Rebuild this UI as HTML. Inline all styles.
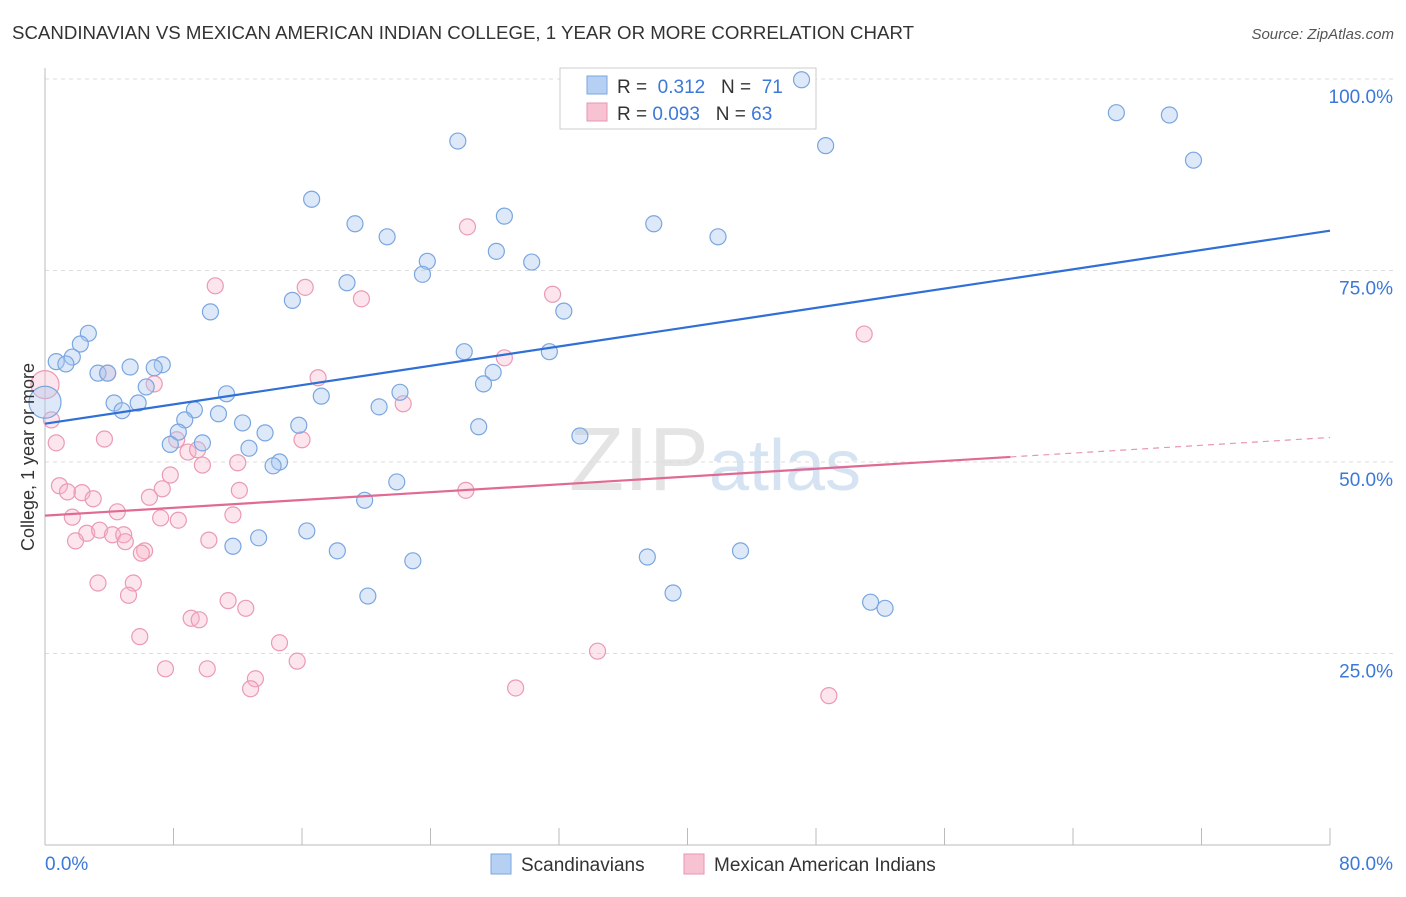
<!DOCTYPE html>
<html><head><meta charset="utf-8"><style>
body{margin:0;background:#fff;font-family:"Liberation Sans",sans-serif;}
svg text{font-family:"Liberation Sans",sans-serif;}
</style></head><body>
<svg id="chart" width="1406" height="892" xmlns="http://www.w3.org/2000/svg">
<text x="12" y="39" font-size="18" fill="#333" textLength="902" lengthAdjust="spacingAndGlyphs">SCANDINAVIAN VS MEXICAN AMERICAN INDIAN COLLEGE, 1 YEAR OR MORE CORRELATION CHART</text>
<text x="1394" y="39" font-size="15" fill="#555" text-anchor="end" font-style="italic">Source: ZipAtlas.com</text>
<text x="715" y="490" font-size="90" fill="#e4e4e4" text-anchor="middle" font-family="Liberation Serif">ZIP<tspan fill="#d5e3f3" font-family="Liberation Sans" font-size="72">atlas</tspan></text>
<g id="grid"></g>
<g id="axes"></g>
<g>
<rect x="560" y="68" width="256" height="61" fill="#fff" stroke="#ccc"/>
<rect x="587" y="76" width="20" height="18" fill="#b5d0f3" stroke="#7aa6e0"/>
<rect x="587" y="103" width="20" height="18" fill="#f7c2d2" stroke="#e896b0"/>
<text x="617" y="93" font-size="19" fill="#333">R = <tspan fill="#3b78d8">&#160;0.312</tspan>&#160;&#160;&#160;N = <tspan fill="#3b78d8">&#160;71</tspan></text>
<text x="617" y="120" font-size="19" fill="#333">R = <tspan fill="#3b78d8">0.093</tspan>&#160;&#160;&#160;N = <tspan fill="#3b78d8">63</tspan></text>
</g>
<g id="marks"></g>
<g>
<rect x="491" y="854" width="20" height="20" fill="#b5d0f3" stroke="#7aa6e0"/>
<text x="521" y="871" font-size="19" fill="#333">Scandinavians</text>
<rect x="684" y="854" width="20" height="20" fill="#f7c2d2" stroke="#e896b0"/>
<text x="714" y="871" font-size="19" fill="#333">Mexican American Indians</text>
</g>
<text transform="translate(34,457) rotate(-90)" font-size="18" fill="#333" text-anchor="middle">College, 1 year or more</text>
</svg>
<script>
const yTicks=[25,50,75,100];
const yTickLabels=["25.0%","50.0%","75.0%","100.0%"];
const blueX=[47.1,66.7,70.0,48.6,71.5,25.7,16.6,19.3,21.3,28.6,37.9,41.9,28.1,30.3,23.8,23.5,18.8,15.4,10.3,32.3,2.7,2.2,1.7,0.7,1.3,26.1,31.4,27.9,27.3,7.3,6.8,5.3,3.3,3.9,6.3,11.3,22.1,17.2,4.3,5.8,4.8,9.3,10.8,20.8,8.7,15.8,12.3,27.0,8.3,13.7,7.8,9.8,12.7,33.3,14.6,14.2,21.9,19.9,16.3,13.3,11.7,18.2,43.3,22.9,37.5,39.1,20.1,51.4,52.3,0];
const blueY=[99.9,95.6,95.3,91.3,89.4,91.9,84.3,81.1,79.4,82.1,81.1,79.4,77.5,76.1,76.2,74.5,73.4,71.1,69.6,69.7,66.8,65.4,63.7,63.1,62.8,64.4,64.4,61.7,60.2,62.7,62.3,62.4,61.6,61.6,59.8,58.9,59.1,58.6,57.7,57.7,56.7,56.8,56.3,57.2,55.5,54.8,55.1,54.6,53.9,53.8,52.3,52.5,51.8,53.4,50.0,49.5,47.4,45.0,41.0,40.1,39.0,38.4,38.4,37.1,37.6,32.9,32.5,31.7,30.9,57.8];
const pinkX=[0,0.4,0.7,26.3,10.6,16.2,19.7,31.6,51.0,3.9,6.8,28.6,17.0,22.3,3.7,8.2,8.9,9.5,9.8,12.0,7.8,7.3,12.1,26.2,0.9,1.4,2.3,3.0,6.5,4.5,1.7,7.2,8.3,11.7,2.6,3.4,4.2,4.9,5.0,1.9,6.2,6.0,10.2,3.3,5.5,5.2,11.4,12.5,9.1,9.6,5.9,14.6,15.7,7.5,10.1,13.1,12.8,29.3,34.4,48.8,16.0];
const pinkY=[60.1,55.5,52.5,80.7,73.0,72.8,71.3,71.9,66.7,61.6,60.2,63.6,61.0,57.6,53.0,52.9,51.3,51.6,49.6,49.9,48.3,46.5,46.3,46.3,46.9,46.1,46.0,45.2,45.4,43.5,42.8,42.7,42.4,43.1,40.7,41.1,40.5,40.5,39.6,39.7,38.4,38.1,39.8,34.2,34.2,32.6,31.9,30.9,29.6,29.4,27.2,26.4,24.0,23.0,23.0,21.7,20.4,20.5,25.3,19.5,52.9];
const blueTrend=[55.0,80.2];
const pinkTrend=[43.0,53.2];
const pinkSolidEnd=60.1;
const NS="http://www.w3.org/2000/svg";
const X=v=>45+v*(1285/80);
const Y=v=>845-v*7.66;
function mk(tag,attrs,parent){const e=document.createElementNS(NS,tag);for(const k in attrs)e.setAttribute(k,attrs[k]);document.getElementById(parent).appendChild(e);return e;}
yTicks.forEach((t,i)=>{
 const l=mk('line',{x1:45,x2:1393,y1:Y(t),y2:Y(t),stroke:'#ddd','stroke-dasharray':'4,4'},'grid');
 
 
 const tx=mk('text',{x:1393,y:Y(t)+24,'font-size':19,fill:'#3b78d8','text-anchor':'end'},'axes');
 tx.textContent=yTickLabels[i];
 
 
});
mk('line',{x1:45,x2:45,y1:68,y2:845,stroke:'#bbb'},'axes');
mk('line',{x1:45,x2:1330,y1:845,y2:845,stroke:'#bbb'},'axes');
for(let i=0;i<=10;i++){mk('line',{x1:X(i*8),x2:X(i*8),y1:828,y2:845,stroke:'#bbb'},'axes');}
let t0=mk('text',{x:45,y:870,'font-size':19,fill:'#3b78d8'},'axes');t0.textContent='0.0%';

let t1=mk('text',{x:1393,y:870,'font-size':19,fill:'#3b78d8','text-anchor':'end'},'axes');t1.textContent='80.0%';

pinkX.forEach((v,i)=>{
 const r=i===0?14:8;
 const c=mk('circle',{cx:X(v),cy:Y(pinkY[i]),r:r,fill:'rgba(247,180,200,0.35)',stroke:'#eb9ab4','stroke-width':1.2},'marks');
 
 
});
blueX.forEach((v,i)=>{
 const r=i===blueX.length-1?16:8;
 const c=mk('circle',{cx:X(v),cy:Y(blueY[i]),r:r,fill:'rgba(170,200,240,0.4)',stroke:'#7aa6e0','stroke-width':1.2},'marks');
 
 
});
const bl=mk('line',{x1:X(0),y1:Y(blueTrend[0]),x2:X(80),y2:Y(blueTrend[1]),stroke:'#2f6fd6','stroke-width':2.2},'marks');


const pm=pinkTrend[0]+(pinkTrend[1]-pinkTrend[0])*pinkSolidEnd/80;
const pl=mk('line',{x1:X(0),y1:Y(pinkTrend[0]),x2:X(pinkSolidEnd),y2:Y(pm),stroke:'#e06a94','stroke-width':2.2},'marks');


const pd=mk('line',{x1:X(pinkSolidEnd),y1:Y(pm),x2:X(80),y2:Y(pinkTrend[1]),stroke:'#e896b0','stroke-width':1.2,'stroke-dasharray':'6,5'},'marks');


</script>
</body></html>
